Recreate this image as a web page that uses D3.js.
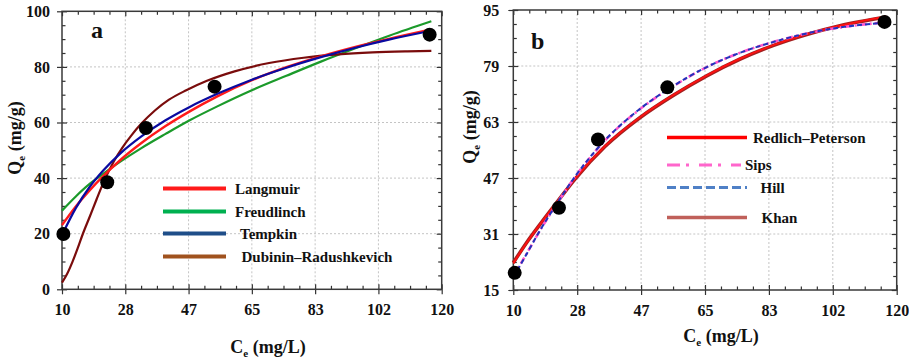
<!DOCTYPE html>
<html>
<head>
<meta charset="utf-8">
<script src="https://cdn.jsdelivr.net/npm/d3@7"></script>
<style>
  body { margin: 0; background: #fff; }
  svg text { font-family: "Liberation Serif", Tinos, "DejaVu Serif", "Times New Roman", Times, serif; font-weight: bold; fill: #111; }
</style>
</head>
<body>
<div id="container"></div>
<script>
/* DATA */
const ceObs = [10.4, 23.1, 34.3, 54.2, 116.5];
const qeObs = [19.9, 38.5, 58.0, 72.9, 91.6];

const xTickLabels = ["10", "28", "47", "65", "83", "102", "120"];
const yTicksA = [0, 20, 40, 60, 80, 100];
const yTicksB = [15, 31, 47, 63, 79, 95];

// panel a: two-parameter isotherms
const ceA = [10, 14, 18, 22, 27, 33, 40, 47, 55, 65, 75, 85, 95, 105, 117];
const langmuir   = [23.1, 29.8, 35.6, 40.8, 46.6, 52.6, 58.7, 64.0, 69.4, 75.2, 79.9, 83.8, 87.2, 90.2, 93.5];
const freundlich = [28.3, 33.4, 37.9, 41.6, 46.0, 50.8, 55.9, 60.8, 65.8, 71.6, 76.8, 81.9, 86.7, 91.3, 96.4];
const tempkin    = [19.5, 29.2, 36.8, 42.8, 49.0, 55.0, 60.8, 65.6, 70.3, 75.4, 79.7, 83.5, 86.9, 89.9, 93.0];
const ceDR = [10, 11.5, 13, 14.5, 16, 18, 20, 22.5, 25, 27.5, 30, 33, 37, 41, 46, 52, 60, 70, 80, 90, 100, 110, 117];
const dubinin = [2.4, 5.6, 9.8, 14.6, 19.8, 26.0, 32.3, 39.8, 46.0, 51.0, 55.2, 59.6, 64.4, 68.2, 71.6, 75.0, 78.4, 81.4, 83.3, 84.5, 85.2, 85.6, 85.8];

// panel b: three-parameter isotherms
const ceB = [10, 14, 18, 22, 27.7, 36.3, 46.4, 55.9, 65.5, 75.1, 84.7, 94.2, 103.7, 117];
const redlich = [22.6, 28.7, 34.2, 39.4, 46.8, 56.1, 64.4, 70.7, 76.3, 81.1, 85.0, 88.1, 90.5, 93.2];
const khan    = [22.8, 28.8, 34.2, 39.4, 46.7, 56.0, 64.3, 70.6, 76.2, 81.0, 84.9, 88.0, 90.5, 93.0];
const sips    = [18.8, 25.7, 32.6, 38.9, 47.3, 57.7, 66.7, 73.2, 78.7, 82.8, 85.9, 88.3, 90.0, 91.5];
const hill    = [18.6, 25.6, 32.6, 38.9, 47.4, 57.8, 66.8, 73.3, 78.7, 82.8, 85.9, 88.3, 90.0, 91.4];

/* SVG */
const svg = d3.select("#container")
  .append("svg")
  .attr("width", 909)
  .attr("height", 360);

const xMin = 10, xMax = 120;
const xMajor = xTickLabels.map((d, i) => xMin + i * (xMax - xMin) / (xTickLabels.length - 1));
const xMinor = d3.range(25).map(i => xMin + i * (xMax - xMin) / 24).filter((d, i) => i % 4 !== 0);

function drawPanel(p) {
  const x = d3.scaleLinear().domain([xMin, xMax]).range([p.left, p.right]);
  const y = d3.scaleLinear().domain(p.yDomain).range([p.bottom, p.top]);
  const yMinor = d3.range(p.yDomain[0], p.yDomain[1] + 0.01, p.yMinorStep)
    .filter(v => !p.yTicks.includes(v));

  const g = svg.append("g");

  // grid
  g.append("g").selectAll("line")
    .data(xMajor.slice(1, -1))
    .join("line")
    .attr("x1", d => x(d)).attr("x2", d => x(d))
    .attr("y1", p.top).attr("y2", p.bottom)
    .attr("stroke", "#c4c4c4").attr("stroke-dasharray", "2,2");
  g.append("g").selectAll("line")
    .data(p.yTicks.slice(1, -1))
    .join("line")
    .attr("x1", p.left).attr("x2", p.right)
    .attr("y1", d => y(d)).attr("y2", d => y(d))
    .attr("stroke", "#c4c4c4").attr("stroke-dasharray", "2,2");

  // axes (ticks)
  const tickStyle = sel => {
    sel.select(".domain").remove();
    sel.attr("font-family", null);
    sel.selectAll(".tick line").attr("stroke", "#333").attr("stroke-width", 1.2);
  };
  const bottom = g.append("g").attr("transform", `translate(0,${p.bottom})`);
  bottom.append("g").call(d3.axisBottom(x).tickValues(xMajor).tickSize(5)
      .tickFormat((d, i) => xTickLabels[i]))
    .call(tickStyle)
    .call(s => s.selectAll("text").attr("y", 0).attr("dy", 0)
      .attr("transform", "translate(0,26)").style("font-size", "16px"));
  bottom.append("g").call(d3.axisBottom(x).tickValues(xMajor).tickSize(-5).tickFormat("")).call(tickStyle);
  bottom.append("g").call(d3.axisBottom(x).tickValues(xMinor).tickSize(-3.5).tickFormat("")).call(tickStyle);

  const top = g.append("g").attr("transform", `translate(0,${p.top})`);
  top.append("g").call(d3.axisTop(x).tickValues(xMajor).tickSize(-5).tickFormat("")).call(tickStyle);
  top.append("g").call(d3.axisTop(x).tickValues(xMinor).tickSize(-3.5).tickFormat("")).call(tickStyle);

  const left = g.append("g").attr("transform", `translate(${p.left},0)`);
  left.append("g").call(d3.axisLeft(y).tickValues(p.yTicks).tickSize(5).tickPadding(p.yPad))
    .call(tickStyle)
    .call(s => s.selectAll("text").style("font-size", "16px"));
  left.append("g").call(d3.axisLeft(y).tickValues(p.yTicks).tickSize(-5).tickFormat("")).call(tickStyle);
  left.append("g").call(d3.axisLeft(y).tickValues(yMinor).tickSize(-3.5).tickFormat("")).call(tickStyle);

  const right = g.append("g").attr("transform", `translate(${p.right},0)`);
  right.append("g").call(d3.axisRight(y).tickValues(p.yTicks).tickSize(-5).tickFormat("")).call(tickStyle);
  right.append("g").call(d3.axisRight(y).tickValues(yMinor).tickSize(-3.5).tickFormat("")).call(tickStyle);

  // frame
  g.append("rect")
    .attr("x", p.left).attr("y", p.top)
    .attr("width", p.right - p.left).attr("height", p.bottom - p.top)
    .attr("fill", "none").attr("stroke", "#3a3a3a").attr("stroke-width", 1.5);

  // fitted curves
  const line = d3.line()
    .x(d => x(d[0]))
    .y(d => y(d[1]))
    .curve(d3.curveMonotoneX);

  p.series.forEach(s => {
    g.append("path")
      .datum(s.ce.map((c, i) => [c, s.q[i]]))
      .attr("d", line)
      .attr("fill", "none")
      .attr("stroke", s.color)
      .attr("stroke-width", s.width)
      .attr("stroke-dasharray", s.dash || null);
  });

  // observed points
  g.append("g").selectAll("circle")
    .data(ceObs)
    .join("circle")
    .attr("cx", d => x(d))
    .attr("cy", (d, i) => y(qeObs[i]))
    .attr("r", 7)
    .attr("fill", "#000");

  // panel letter
  g.append("text")
    .attr("x", p.letterX).attr("y", p.letterY)
    .style("font-size", "24px")
    .text(p.letter);

  // axis titles
  const xt = g.append("text")
    .attr("x", p.xTitleX).attr("y", p.xTitleY)
    .attr("text-anchor", "middle")
    .style("font-size", "18px");
  xt.append("tspan").text("C");
  xt.append("tspan").attr("dy", 4).style("font-size", "11px").text("e");
  xt.append("tspan").attr("dy", -4).text(" (mg/L)");

  const yt = g.append("text")
    .attr("transform", `translate(${p.yTitleX},${p.yTitleY}) rotate(-90)`)
    .attr("text-anchor", "middle")
    .style("font-size", "18px");
  yt.append("tspan").text("Q");
  yt.append("tspan").attr("dy", 4).style("font-size", "11px").text("e");
  yt.append("tspan").attr("dy", -4).text(" (mg/g)");

  // legend
  p.legend.forEach(l => {
    g.append("line")
      .attr("x1", l.x1).attr("x2", l.x2)
      .attr("y1", l.y).attr("y2", l.y)
      .attr("stroke", l.color)
      .attr("stroke-width", l.width)
      .attr("stroke-dasharray", l.dash || null);
    g.append("text")
      .attr("x", l.tx).attr("y", l.y + 5)
      .style("font-size", "15px")
      .text(l.name);
  });
}

drawPanel({
  left: 62, right: 441.7, top: 11.3, bottom: 289.3,
  yDomain: [0, 100], yTicks: yTicksA, yMinorStep: 5, yPad: 7,
  letter: "a", letterX: 91, letterY: 38,
  xTitleX: 268, xTitleY: 353, yTitleX: 21, yTitleY: 138,
  series: [
    { ce: ceA, q: freundlich, color: "#1b9a2a", width: 2.2 },
    { ce: ceDR, q: dubinin, color: "#7a0c0c", width: 2.2 },
    { ce: ceA, q: langmuir, color: "#ff1a1a", width: 2.4 },
    { ce: ceA, q: tempkin, color: "#0a0aa0", width: 2.2 }
  ],
  legend: [
    { name: "Langmuir", color: "#ff1a1a", width: 4, x1: 163, x2: 226, y: 188.5, tx: 235 },
    { name: "Freudlinch", color: "#00b050", width: 4, x1: 163, x2: 226, y: 211.5, tx: 235 },
    { name: "Tempkin", color: "#1f4e89", width: 4, x1: 163, x2: 226, y: 233.5, tx: 240 },
    { name: "Dubinin\u2013Radushkevich", color: "#a0521e", width: 4, x1: 163, x2: 226, y: 256.5, tx: 241.5 }
  ]
});

drawPanel({
  left: 513.3, right: 896.7, top: 10, bottom: 290,
  yDomain: [15, 95], yTicks: yTicksB, yMinorStep: 4, yPad: 9,
  letter: "b", letterX: 531, letterY: 49,
  xTitleX: 721, xTitleY: 342, yTitleX: 476, yTitleY: 127,
  series: [
    { ce: ceB, q: khan, color: "#a32020", width: 3.6 },
    { ce: ceB, q: redlich, color: "#ff1010", width: 1.8 },
    { ce: ceB, q: sips, color: "#ff55cc", width: 2.6, dash: "7,3,2,3" },
    { ce: ceB, q: hill, color: "#2233bb", width: 2, dash: "5,3" }
  ],
  legend: [
    { name: "Redlich\u2013Peterson", color: "#ff0000", width: 3.5, x1: 667, x2: 747, y: 137.5, tx: 753 },
    { name: "Sips", color: "#ff66cc", width: 3, dash: "13,6,3,10", x1: 667, x2: 741, y: 165, tx: 745 },
    { name: "Hill", color: "#4f80c6", width: 3, dash: "9,4", x1: 667, x2: 747, y: 187.5, tx: 760.5 },
    { name: "Khan", color: "#c0605a", width: 3.5, x1: 667, x2: 747, y: 217.5, tx: 761.5 }
  ]
});
</script>
</body>
</html>
